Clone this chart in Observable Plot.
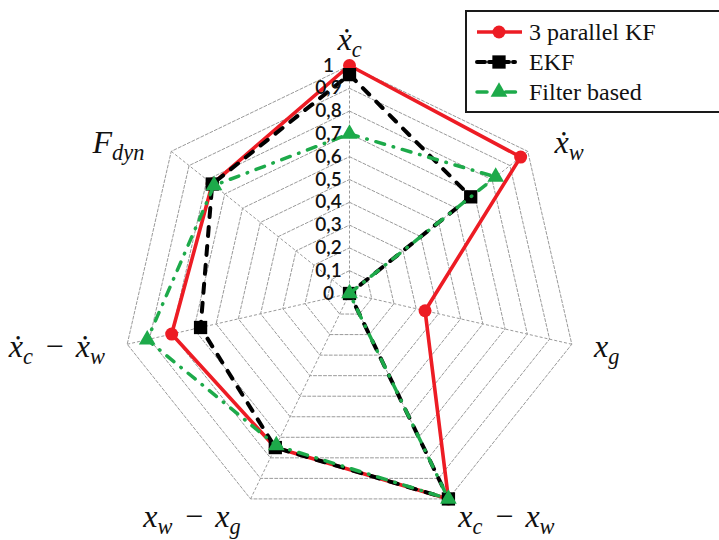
<!DOCTYPE html>
<html><head><meta charset="utf-8">
<script src="https://cdn.jsdelivr.net/npm/d3@7"></script>
<script src="https://cdn.jsdelivr.net/npm/@observablehq/plot@0.6"></script>
<style>
html,body{margin:0;padding:0;background:#fff;overflow:hidden}
#wrap{position:relative;width:719px;height:540px;overflow:hidden}
#legend{position:absolute;left:465px;top:10px}
</style></head><body><div id="wrap"></div>
<script>
// ---- data ----
const categories = ["x\u0307_c", "x\u0307_w", "x_g", "x_c − x_w", "x_w − x_g", "x\u0307_c − x\u0307_w", "F_dyn"];
const seriesNames = ["3 parallel KF", "EKF", "Filter based"];
const kf3Values    = [1.00, 0.96, 0.34, 1.00, 0.75, 0.80, 0.77];
const ekfValues    = [0.96, 0.68, 0.00, 1.00, 0.75, 0.67, 0.77];
const filterValues = [0.70, 0.82, 0.00, 1.00, 0.74, 0.91, 0.76];
const tickValues = [0, 0.1, 0.2, 0.3, 0.4, 0.5, 0.6, 0.7, 0.8, 0.9, 1];
const tickLabels = ["0", "0,1", "0,2", "0,3", "0,4", "0,5", "0,6", "0,7", "0,8", "0,9", "1"];

// ---- styles ----
const SERIF = "'Liberation Serif', 'Times New Roman', Tinos, 'DejaVu Serif', serif";
const styles = [
  {color: "#ED1C24", width: 3.6, dash: null, symbol: "circle", r: 6.5},
  {color: "#000000", width: 4, dash: "9,10", symbol: "square", r: 7.5},
  {color: "#1DAA4A", width: 3.5, dash: "9,9,0.5,9", symbol: "triangle", r: 6.2}
];

const N = categories.length;
const ang = i => 2 * Math.PI * i / N;
const px = (v, i) => v * Math.sin(ang(i));
const py = (v, i) => v * Math.cos(ang(i));

const allSeries = [kf3Values, ekfValues, filterValues];
const rows = allSeries.map((vals, s) => vals.map((v, i) => ({s, i, v})));
const rings = tickValues.slice(1).flatMap(r => categories.map((c, i) => ({r, i})));
const idx = categories.map((c, i) => i);

const unit = 228;
const LR = 1.1;
function labelX(i) {
  const s = Math.sin(ang(i)), c = Math.cos(ang(i));
  let x = LR * s;
  if (c > 0.3 && Math.abs(s) > 0.3) x += Math.sign(s) * 9 / unit;
  return x;
}
function labelY(i) {
  const s = Math.sin(ang(i)), c = Math.cos(ang(i));
  let y = LR * c;
  if (c > 0.3 && Math.abs(s) > 0.3) y -= 9 / unit;
  return y;
}
const labelFont = {fontFamily: SERIF, fontStyle: "italic", fontSize: 32, fill: "#111", dy: -3};

const marks = [
  Plot.line(rings, {x: d => px(d.r, d.i), y: d => py(d.r, d.i), z: "r", curve: "linear-closed",
    stroke: "#9a9a9a", strokeWidth: 1, strokeDasharray: "3,2"}),
  Plot.link(idx, {x1: () => 0, y1: () => 0, x2: i => px(1, i), y2: i => py(1, i),
    stroke: "#9a9a9a", strokeWidth: 1, strokeDasharray: "3,2"})
];
rows.forEach((data, s) => {
  const st = styles[s];
  marks.push(Plot.line(data, {x: d => px(d.v, d.i), y: d => py(d.v, d.i), curve: "linear-closed",
    stroke: st.color, strokeWidth: st.width, strokeDasharray: st.dash, strokeLinecap: st.dash ? "round" : "butt", strokeLinejoin: "round"}));
  marks.push(Plot.dot(data, {x: d => px(d.v, d.i), y: d => py(d.v, d.i), symbol: st.symbol, r: st.r, fill: st.color, stroke: "none"}));
});
marks.push(Plot.text(tickValues, {x: () => 0, y: d => d, text: (d, i) => tickLabels[i], dx: -21, textAnchor: "middle",
  fontFamily: "Lato, Carlito, sans-serif", fontWeight: 600, fontSize: 19, fill: "#111"}));
marks.push(Plot.text(idx.filter(i => Math.sin(ang(i)) > 0.1), {x: labelX, y: labelY, text: i => categories[i], textAnchor: "start", ...labelFont}));
marks.push(Plot.text(idx.filter(i => Math.sin(ang(i)) < -0.1), {x: labelX, y: labelY, text: i => categories[i], textAnchor: "end", ...labelFont}));
marks.push(Plot.text(idx.filter(i => Math.abs(Math.sin(ang(i))) <= 0.1), {x: labelX, y: labelY, text: i => categories[i], textAnchor: "middle", ...labelFont}));

const chart = Plot.plot({
  width: 719, height: 540, margin: 0,
  x: {domain: [-349 / unit, 370 / unit], range: [0, 719], axis: null},
  y: {domain: [-247 / unit, 293 / unit], range: [540, 0], axis: null},
  marks
});
document.getElementById("wrap").appendChild(chart);

// subscripts in axis labels
const NS = "http://www.w3.org/2000/svg";
d3.select(chart).selectAll("text").filter(function() { return this.textContent.includes("_"); }).each(function() {
  const s = this.textContent.replace(/ /g, "\u2004");
  while (this.firstChild) this.removeChild(this.firstChild);
  const parts = s.split(/_([a-z]+)/);
  parts.forEach((p, k) => {
    if (!p) return;
    const t = document.createElementNS(NS, "tspan");
    if (k % 2) { t.setAttribute("font-size", "0.7em"); t.setAttribute("dy", "7"); }
    else if (k > 0) { t.setAttribute("dy", "-7"); }
    t.textContent = p;
    this.appendChild(t);
  });
});

// legend
const lg = d3.select("#wrap").append("svg").attr("id", "legend").attr("width", 260).attr("height", 104);
lg.append("rect").attr("x", 1).attr("y", 1).attr("width", 300).attr("height", 101)
  .attr("fill", "#fff").attr("stroke", "#1a1a1a").attr("stroke-width", 2);
seriesNames.forEach((name, s) => {
  const st = styles[s];
  const y = 22 + s * 30;
  lg.append("line").attr("x1", 12).attr("x2", s === 1 ? 50 : 57).attr("y1", y).attr("y2", y)
    .attr("stroke", st.color).attr("stroke-width", st.width)
    .attr("stroke-dasharray", s === 1 ? "8,4" : s === 2 ? "10,9,0.5,9" : null)
    .attr("stroke-linecap", st.dash ? "round" : "butt");
  lg.append("path").attr("transform", `translate(34,${y})`)
    .attr("d", d3.symbol(s === 0 ? d3.symbolCircle : s === 1 ? d3.symbolSquare : d3.symbolTriangle, Math.PI * st.r * st.r)())
    .attr("fill", st.color);
  lg.append("text").attr("x", 64).attr("y", y).attr("dy", "0.33em")
    .attr("font-family", SERIF).attr("font-size", 24).attr("fill", "#111")
    .text(name);
});
</script></body></html>
